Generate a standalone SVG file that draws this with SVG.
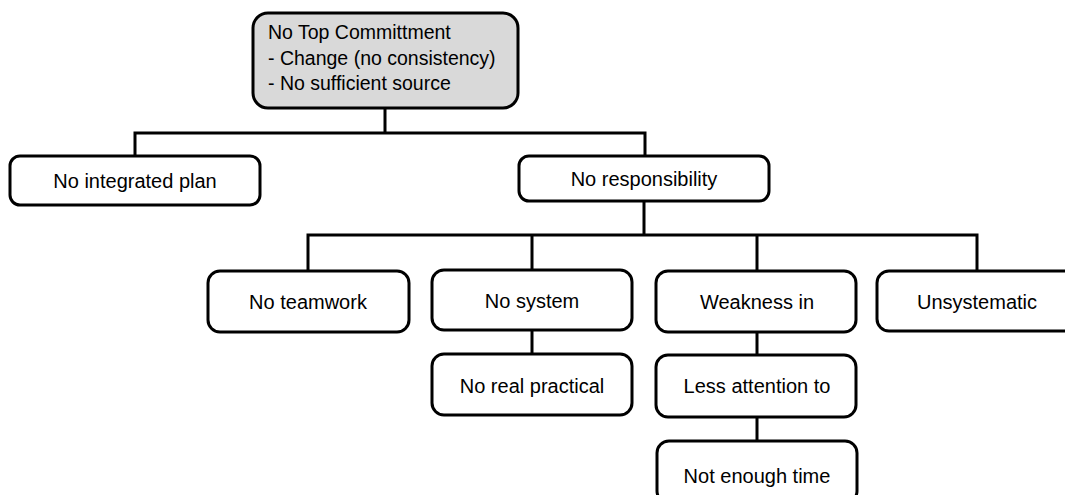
<svg xmlns="http://www.w3.org/2000/svg" width="1065" height="495" viewBox="0 0 1065 495">
  <style>
    .box { fill: #ffffff; stroke: #000000; stroke-width: 3; }
    .root { fill: #d9d9d9; stroke: #000000; stroke-width: 3; }
    .lbl { font-family: "Liberation Sans", Arial, sans-serif; font-size: 20px; fill: #000000; text-anchor: middle; }
    .lbl-left { font-family: "Liberation Sans", Arial, sans-serif; font-size: 19.5px; fill: #000000; }
    .link { fill: none; stroke: #000000; stroke-width: 3; stroke-linejoin: miter; stroke-linecap: square; }
  </style>
  <rect width="1065" height="495" fill="#ffffff"/>

  <!-- connectors -->
  <g id="connectors">
    <path class="link" d="M385 108 V133 M135 133 H645 M135 133 V156 M645 133 V156"/>
    <path class="link" d="M644 201 V235 M308 235 H977 M308 235 V271 M532 235 V270 M757 235 V271 M977 235 V271"/>
    <path class="link" d="M532 330 V354"/>
    <path class="link" d="M757 332 V355 M757 417 V441"/>
  </g>

  <g id="node-root">
    <rect class="root" x="253" y="13" width="265" height="95" rx="15"/>
    <text class="lbl-left" x="268" y="39">No Top Committment</text>
    <text class="lbl-left" x="268" y="65">- Change (no consistency)</text>
    <text class="lbl-left" x="268" y="90">- No sufficient source</text>
  </g>

  <g id="node-integrated-plan">
    <rect class="box" x="10" y="156" width="250" height="49" rx="10"/>
    <text class="lbl" x="135" y="188">No integrated plan</text>
  </g>

  <g id="node-responsibility">
    <rect class="box" x="519" y="156" width="250" height="45" rx="10"/>
    <text class="lbl" x="644" y="186">No responsibility</text>
  </g>

  <g id="node-teamwork">
    <rect class="box" x="208" y="271" width="201" height="61" rx="12"/>
    <text class="lbl" x="308" y="309">No teamwork</text>
  </g>

  <g id="node-system">
    <rect class="box" x="432" y="270" width="200" height="60" rx="12"/>
    <text class="lbl" x="532" y="308">No system</text>
  </g>

  <g id="node-real-practical">
    <rect class="box" x="432" y="354" width="200" height="61" rx="12"/>
    <text class="lbl" x="532" y="393">No real practical</text>
  </g>

  <g id="node-weakness">
    <rect class="box" x="656" y="271" width="200" height="61" rx="12"/>
    <text class="lbl" x="757" y="309">Weakness in</text>
  </g>

  <g id="node-less-attention">
    <rect class="box" x="656" y="355" width="200" height="62" rx="12"/>
    <text class="lbl" x="757" y="393">Less attention to</text>
  </g>

  <g id="node-time">
    <rect class="box" x="657" y="441" width="200" height="62" rx="12"/>
    <text class="lbl" x="757" y="483">Not enough time</text>
  </g>

  <g id="node-unsystematic">
    <rect class="box" x="877" y="271" width="200" height="60" rx="12"/>
    <text class="lbl" x="977" y="309">Unsystematic</text>
  </g>
</svg>
